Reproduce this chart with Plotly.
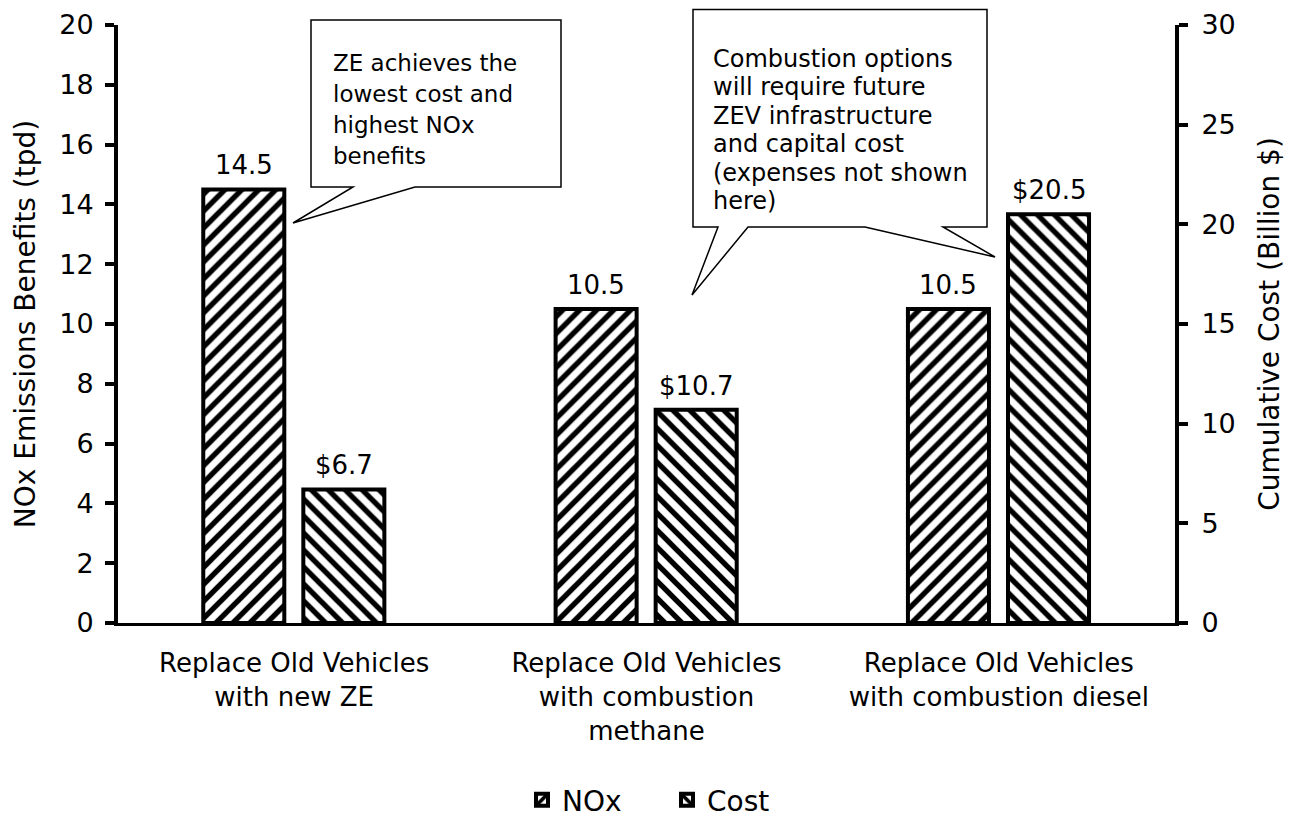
import plotly.graph_objects as go

categories = ["Replace Old Vehicles<br>with new ZE",
              "Replace Old Vehicles<br>with combustion<br>methane",
              "Replace Old Vehicles<br>with combustion diesel"]
nox_values = [14.5, 10.5, 10.5]
cost_values = [6.7, 10.7, 20.5]
nox_labels = ["14.5", "10.5", "10.5"]
cost_labels = ["$6.7", "$10.7", "$20.5"]
callout1_lines = ["ZE achieves the", "lowest cost and", "highest NOx", "benefits"]
callout2_lines = ["Combustion options", "will require future", "ZEV infrastructure",
                  "and capital cost", "(expenses not shown", "here)"]

FONT = "DejaVu Sans"
W, H = 1292, 827
# page has an 8px body margin; target screen plot area: x 118..1175, y 25..623
OFF = 8
SL, ST, SR, SB = 118, 25, 1175, 623
PW, PH = SR - SL, SB - ST


def px(x):
    return (x - SL) / PW


def py(y):
    return (SB - y) / PH


BAR_W = 0.23
NOX_OFF = -0.258
COST_OFF = 0.026

fig = go.Figure()
fig.add_trace(go.Bar(
    x=categories, y=nox_values, name="NOx",
    width=BAR_W, offset=NOX_OFF,
    marker=dict(color="white", line=dict(color="black", width=4),
                pattern=dict(shape="/", size=12, solidity=0.45,
                             fgcolor="black", bgcolor="white", fillmode="replace")),
    yaxis="y",
))
fig.add_trace(go.Bar(
    x=categories, y=cost_values, name="Cost",
    width=BAR_W, offset=COST_OFF,
    marker=dict(color="white", line=dict(color="black", width=4),
                pattern=dict(shape="\\", size=12, solidity=0.45,
                             fgcolor="black", bgcolor="white", fillmode="replace")),
    yaxis="y2",
))

annotations = []
for i, (v, t) in enumerate(zip(nox_values, nox_labels)):
    annotations.append(dict(x=i + NOX_OFF + BAR_W / 2, y=v, xref="x", yref="y", text=t,
                            showarrow=False, yanchor="bottom", yshift=7,
                            font=dict(size=26, color="black", family=FONT)))
for i, (v, t) in enumerate(zip(cost_values, cost_labels)):
    annotations.append(dict(x=i + COST_OFF + BAR_W / 2, y=v, xref="x", yref="y2", text=t,
                            showarrow=False, yanchor="bottom", yshift=7,
                            font=dict(size=26, color="black", family=FONT)))

shapes = []
c1 = [(311, 20), (561, 20), (561, 187), (415, 187), (293, 223), (353, 187), (311, 187)]
c2 = [(693, 9.5), (987, 9.5), (987, 227), (943, 227), (995, 257), (865, 227),
      (748, 227), (692, 295), (718, 227), (693, 227)]
for poly in (c1, c2):
    path = "M " + " L ".join(f"{px(x):.5f},{py(y):.5f}" for x, y in poly) + " Z"
    shapes.append(dict(type="path", xref="paper", yref="paper", path=path,
                       line=dict(color="black", width=1.5), fillcolor="white", layer="above"))

for k, line in enumerate(callout1_lines):
    annotations.append(dict(xref="paper", yref="paper", x=px(331), y=py(63 + 31 * k),
                            xanchor="left", yanchor="middle", showarrow=False, text=line,
                            font=dict(size=23, color="black", family=FONT)))
for k, line in enumerate(callout2_lines):
    annotations.append(dict(xref="paper", yref="paper", x=px(711), y=py(59 + 28.4 * k),
                            xanchor="left", yanchor="middle", showarrow=False, text=line,
                            font=dict(size=24, color="black", family=FONT)))

fig.update_layout(
    width=W, height=H,
    margin=dict(l=SL - OFF, r=W - SR + OFF, t=ST - OFF, b=H - SB + OFF, autoexpand=False),
    paper_bgcolor="white", plot_bgcolor="white",
    font=dict(family=FONT, size=26, color="black"),
    barmode="overlay",
    showlegend=True,
    legend=dict(orientation="h", x=px(522), xanchor="left", y=py(800), yanchor="middle",
                font=dict(size=28, family=FONT), traceorder="normal",
                entrywidth=100, entrywidthmode="pixels"),
    xaxis=dict(showline=True, linecolor="black", linewidth=3, ticks="",
               tickfont=dict(size=26), showgrid=False, zeroline=False,
               ticklabelstandoff=15),
    yaxis=dict(range=[0, 20], dtick=2, showline=True, linecolor="black", linewidth=4,
               ticks="outside", ticklen=9, tickwidth=4, tickcolor="black",
               showgrid=False, zeroline=False, tickfont=dict(size=27), ticklabelstandoff=6,
               title=dict(text="NOx Emissions Benefits (tpd)", font=dict(size=28), standoff=16)),
    yaxis2=dict(range=[0, 30], dtick=5, overlaying="y", side="right", showline=True,
                linecolor="black", linewidth=4, ticks="outside", ticklen=9, tickwidth=4,
                tickcolor="black", showgrid=False, zeroline=False, tickfont=dict(size=27),
                ticklabelstandoff=8,
                title=dict(text="Cumulative Cost (Billion $)", font=dict(size=28), standoff=26)),
    shapes=shapes,
    annotations=annotations,
)

fig.write_html("out.html")
